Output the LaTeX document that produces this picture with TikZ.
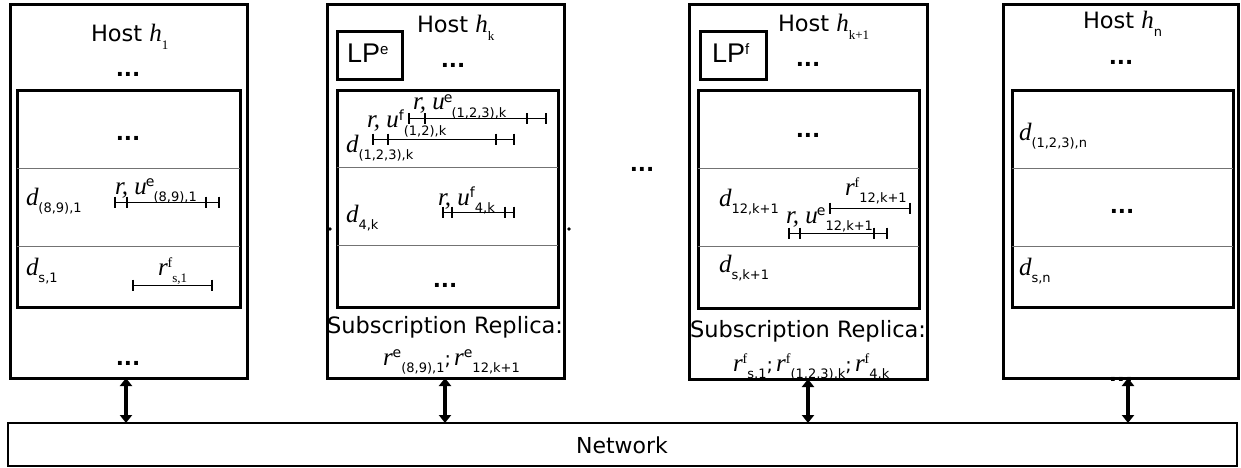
\documentclass[tikz,border=0pt]{standalone}
\usepackage{fontspec}
\setmainfont{DejaVu Sans}
\newfontfamily\vfam{Liberation Serif}
\newfontfamily\lpfam{Liberation Sans}
\usetikzlibrary{arrows.meta}
\newcommand\Vr[1]{{\fontsize{25}{27}\selectfont\vfam\itshape #1}}
\newcommand\Sp[1]{\raisebox{7.5pt}{\fontsize{14}{15}\selectfont #1}}
\newcommand\Sb[1]{\raisebox{-7.5pt}{\fontsize{13}{14}\selectfont #1}}
\newcommand\Semi{{\fontsize{19}{20}\selectfont;}}
\newcommand\HostT[1]{{\fontsize{22.5}{24}\selectfont Host \Vr{h}\Sb{#1}}}
\newcommand\Dots{{\fontsize{21.5}{24}\selectfont\bfseries ...}}
\newcommand\LP[1]{{\lpfam\fontsize{27}{30}\selectfont LP\raisebox{8pt}{\fontsize{15}{16}\selectfont #1}}}
\newcommand\SubRep{{\fontsize{22.5}{24}\selectfont Subscription Replica:}}
\newcommand\ivfour[5]{%
  \draw[ivline] (#2,#1) -- (#5,#1);
  \foreach \t in {#2,#3,#4,#5} \draw[ivtick] (\t,#1-5.5) -- (\t,#1+5.5);}
\newcommand\ivtwo[3]{%
  \draw[ivline] (#2,#1) -- (#3,#1);
  \foreach \t in {#2,#3} \draw[ivtick] (\t,#1-5.5) -- (\t,#1+5.5);}
\begin{document}
\begin{tikzpicture}[x=1pt,y=-1pt,
  boxed/.style={draw,line width=3pt,inner sep=0pt,outer sep=0pt,anchor=north west},
  lpbox/.style={draw,line width=3pt,inner sep=0pt,outer sep=0pt,anchor=north west,minimum width=65pt,minimum height=48pt},
  divider/.style={line width=1pt,draw=black!55},
  ivline/.style={line width=1pt},
  ivtick/.style={line width=2pt},
  txt/.style={inner sep=0pt,outer sep=0pt,anchor=base west},
  ctr/.style={inner sep=0pt,outer sep=0pt,anchor=base},
  biarrow/.style={line width=3.2pt,{Triangle[length=8pt,width=12pt]}-{Triangle[length=8pt,width=12pt]}}]
\useasboundingbox (0,0) rectangle (1241,468);

% ---------------- Host 1 ----------------
\node[txt] (t1) at (91,42) {\HostT{\vfam 1}};
\node[ctr] (t1d) at (128,77) {\Dots};
\node[ctr] (t1i) at (128,140) {\Dots};
\node[txt] (d1a) at (26,205) {\Vr{d}\Sb{(8,9),1}};
\node[txt] (l1a) at (115,194) {\Vr{r, u}\kern-1pt\Sp{e}\kern-1pt\Sb{(8,9),1}};
\ivfour{202}{115}{127}{206}{219}
\node[txt] (d1b) at (26,275) {\Vr{d}\Sb{s,1}};
\node[txt] (l1b) at (158,275) {\Vr{r}\Sp{\vfam f}\Sb{\vfam s,1}};
\ivtwo{285}{133}{212}
\node[ctr] (t1b) at (128,365) {\Dots};

% ---------------- Host k ----------------
\node[txt] (tk) at (417,33) {\HostT{\vfam k}};
\node[txt] (lpe) at (347,63) {\LP{e}};
\node[ctr] (tkd) at (453,68) {\Dots};
\node[txt] (lk1) at (413,110) {\Vr{r, u}\kern-1pt\Sp{e}\kern-1pt\Sb{(1,2,3),k}};
\ivfour{119}{409}{425}{527}{546}
\node[txt] (lk2) at (367,128) {\Vr{r, u}\Sp{f}\Sb{(1,2),k}};
\ivfour{139}{373}{388}{496}{514}
\node[txt] (dk1) at (346,152) {\Vr{d}\Sb{(1,2,3),k}};
\node[txt] (dk2) at (346,222) {\Vr{d}\Sb{4,k}};
\node[txt] (lk3) at (438,205) {\Vr{r, u}\Sp{f}\Sb{4,k}};
\ivfour{212}{443}{452}{505}{514}
\node[ctr] (tki) at (445,287) {\Dots};
\node[ctr] (srk) at (445,333) {\SubRep};
\node[txt] (fk) at (383,365) {\Vr{r}\Sp{e}\Sb{(8,9),1}\Semi\ \Vr{r}\Sp{e}\Sb{12,k+1}};

% stray dots between hosts
\fill (330,229) circle (1.8pt);
\fill (569,229) circle (1.8pt);
\node[ctr] (mid) at (642,171) {\Dots};

% ---------------- Host k+1 ----------------
\node[txt] (tk1) at (778,32) {\HostT{\vfam k+1}};
\node[txt] (lpf) at (712,63) {\LP{f}};
\node[ctr] (tk1d) at (808,67) {\Dots};
\node[ctr] (tk1i) at (808,138) {\Dots};
\node[txt] (dm1) at (719,206) {\Vr{d}\Sb{12,k+1}};
\node[txt] (lm1) at (845,195) {\Vr{r}\Sp{\vfam f}\Sb{12,k+1}};
\ivtwo{208}{830}{910}
\node[txt] (lm2) at (786,223) {\Vr{r, u}\kern-1pt\Sp{e}\Sb{12,k+1}};
\ivfour{233}{789}{800}{874}{887}
\node[txt] (dm2) at (719,272) {\Vr{d}\Sb{s,k+1}};
\node[ctr] (srm) at (808,337) {\SubRep};
\node[txt] (fm) at (733,371) {\Vr{r}\Sp{\vfam f}\Sb{s,1}\Semi\ \Vr{r}\Sp{\vfam f}\Sb{(1,2,3),k}\Semi\ \Vr{r}\Sp{\vfam f}\Sb{4,k}};

% ---------------- Host n ----------------
\node[txt] (tn) at (1083,29) {\HostT{n}};
\node[ctr] (tnd) at (1121,65) {\Dots};
\node[txt] (dn1) at (1019,140) {\Vr{d}\Sb{(1,2,3),n}};
\node[ctr] (tni) at (1122,213) {\Dots};
\node[txt] (dn2) at (1019,275) {\Vr{d}\Sb{s,n}};
\node[ctr] (tnb) at (1121,381) {\Dots};

% ---------------- boxes ----------------
\node[boxed,minimum width=237pt,minimum height=373pt] (h1) at (10,5) {};
\node[boxed,minimum width=223pt,minimum height=216pt] (i1) at (17,91) {};
\draw[divider] (17,168) -- (240,168);
\draw[divider] (17,246) -- (240,246);

\node[boxed,minimum width=237pt,minimum height=373pt] (hk) at (327,5) {};
\node[lpbox] (lpke) at (337,32) {};
\node[boxed,minimum width=221pt,minimum height=216pt] (ik) at (337,91) {};
\draw[divider] (337,167) -- (558,167);
\draw[divider] (337,245) -- (558,245);

\node[boxed,minimum width=238pt,minimum height=374pt] (hm) at (689,5) {};
\node[lpbox,minimum width=66pt] (lpmf) at (700,32) {};
\node[boxed,minimum width=221pt,minimum height=217pt] (im) at (698,91) {};
\draw[divider] (698,168) -- (919,168);
\draw[divider] (698,246) -- (919,246);

\node[boxed,minimum width=235pt,minimum height=373pt] (hn) at (1003,5) {};
\node[boxed,minimum width=221pt,minimum height=216pt] (in) at (1012,91) {};
\draw[divider] (1012,168) -- (1233,168);
\draw[divider] (1012,246) -- (1233,246);

% ---------------- network ----------------
\node[boxed,line width=2.5pt,minimum width=1229pt,minimum height=43pt] (net) at (8,423) {};
\node[ctr] (nett) at (622,453) {{\fontsize{22}{24}\selectfont Network}};

\draw[biarrow] ([xshift=-2.5pt]h1.south) -- ([xshift=-2.5pt]h1.south |- net.north);
\draw[biarrow] ([xshift=-0.5pt]hk.south) -- ([xshift=-0.5pt]hk.south |- net.north);
\draw[biarrow] (hm.south) -- (hm.south |- net.north);
\draw[biarrow] ([xshift=7.5pt]hn.south) -- ([xshift=7.5pt]hn.south |- net.north);
\end{tikzpicture}
\end{document}
